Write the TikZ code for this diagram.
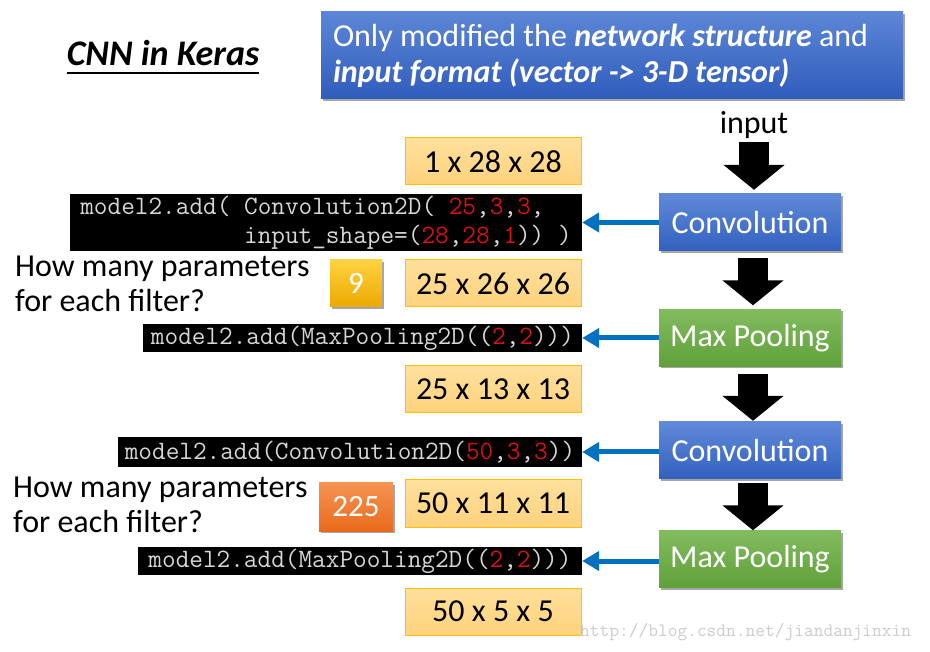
\documentclass[tikz,border=0pt]{standalone}
\usepackage{fontspec}
\setmainfont{Carlito}
\usetikzlibrary{arrows.meta,shadows}
\definecolor{bannerTop}{RGB}{92,134,214}
\definecolor{bannerBot}{RGB}{48,92,188}
\definecolor{convTop}{RGB}{96,138,216}
\definecolor{convBot}{RGB}{50,96,190}
\definecolor{poolTop}{RGB}{130,188,94}
\definecolor{poolBot}{RGB}{96,160,58}
\definecolor{shapeTop}{RGB}{255,224,156}
\definecolor{shapeBot}{RGB}{255,210,124}
\definecolor{shapeLine}{RGB}{255,192,0}
\definecolor{goldTop}{RGB}{255,210,64}
\definecolor{goldBot}{RGB}{236,168,0}
\definecolor{orangeTop}{RGB}{245,148,82}
\definecolor{orangeBot}{RGB}{232,106,28}
\definecolor{codeText}{RGB}{215,215,215}
\definecolor{codeRed}{RGB}{215,16,16}
\definecolor{linkBlue}{RGB}{0,112,192}
\newcommand\rd[1]{\textcolor{codeRed}{#1}}
\tikzset{
  shadowed/.style={drop shadow={shadow xshift=1.5pt, shadow yshift=-2pt, opacity=0.35, fill=black}},
  layer/.style={shadowed, minimum width=182pt, minimum height=57pt, inner sep=0pt, text=white, font=\fontsize{32}{38}\selectfont},
  conv/.style={layer, top color=convTop, bottom color=convBot},
  pool/.style={layer, top color=poolTop, bottom color=poolBot},
  shapebox/.style={minimum width=176pt, minimum height=47pt, inner sep=0pt, draw=shapeLine, line width=1pt, top color=shapeTop, bottom color=shapeBot, font=\fontsize{32}{38}\selectfont},
  parambox/.style={shadowed, inner sep=0pt, text=white, font=\fontsize{31}{36}\selectfont},
  codebox/.style={fill=black, inner sep=0pt, text=codeText, font=\ttfamily\fontsize{26.5}{29}\selectfont},
  question/.style={anchor=west, align=left, inner sep=0pt, font=\fontsize{32}{35}\selectfont},
  blockarrow/.style={black, line width=30pt, -{Triangle[length=25pt,width=60pt]}},
  linkarrow/.style={linkBlue, line width=5pt, -{Triangle[length=17pt,width=19pt]}},
}
\begin{document}
\begin{tikzpicture}[x=1pt,y=-1pt]
\fill[white] (0,0) rectangle (930,652);
\useasboundingbox (0,0) rectangle (930,652);

% title
\node[inner sep=0pt, font=\bfseries\itshape\fontsize{36}{40}\selectfont] (title) at (163,53) {CNN in Keras};
\draw[line width=2pt] ([yshift=-8pt]title.base west) -- ([yshift=-8pt]title.base east);

% banner
\node[shadowed, minimum width=582pt, minimum height=87pt, inner sep=0pt, top color=bannerTop, bottom color=bannerBot] (banner) at (612,55.5) {};
\node[anchor=west, align=left, inner sep=0pt, text=white, font=\fontsize{32}{36}\selectfont] (bannertext) at ([xshift=12pt]banner.west)
  {Only modified the \textbf{\textit{network structure}} and\\\textbf{\textit{input format (vector -> 3-D tensor)}}};

% right column
\node[inner sep=0pt, anchor=base, font=\fontsize{32}{38}\selectfont] (input) at (754,134) {input};
\node[conv] (conv1) at (750,222.5) {Convolution};
\node[pool] (mp1) at (750,338) {Max Pooling};
\node[conv] (conv2) at (750,450.5) {Convolution};
\node[pool] (mp2) at (750,559) {Max Pooling};

\draw[blockarrow] ([yshift=-3pt]input.south) -- ([yshift=4pt]input.south |- conv1.north);
\draw[blockarrow] ([xshift=3pt,yshift=-7pt]conv1.south) -- ([xshift=3pt,yshift=4pt]mp1.north);
\draw[blockarrow] ([xshift=3pt,yshift=-7pt]mp1.south) -- ([xshift=3pt,yshift=1pt]conv2.north);
\draw[blockarrow] ([xshift=3pt,yshift=-4pt]conv2.south) -- ([xshift=3pt,yshift=0pt]mp2.north);

% shapes
\node[shapebox] (s1) at (493,161.5) {1 x 28 x 28};
\node[shapebox] (s2) at (493,283.5) {25 x 26 x 26};
\node[shapebox] (s3) at (493,389.5) {25 x 13 x 13};
\node[shapebox] (s4) at (493,503.5) {50 x 11 x 11};
\node[shapebox] (s5) at (493,611.5) {50 x 5 x 5};

% parameter answers
\node[parambox, minimum width=52pt, minimum height=47pt, top color=goldTop, bottom color=goldBot] (p1) at (356,283.5) {9};
\node[parambox, minimum width=74pt, minimum height=48pt, top color=orangeTop, bottom color=orangeBot] (p2) at (356,507) {225};

% questions
\node[question] (q1) at (15,283.5) {How many parameters\\for each filter?};
\node[question] (q2) at (13,504.5) {How many parameters\\for each filter?};

% code
\node[codebox, minimum width=512pt, minimum height=57pt, align=left] (c1) at (326,222.5)
  {model2.add( Convolution2D( \rd{25},\rd{3},\rd{3},\\\hphantom{model2.add( }input\_shape=(\rd{28},\rd{28},\rd{1})) )};
\node[codebox, minimum width=439pt, minimum height=28pt] (c2) at (362.5,338) {model2.add(MaxPooling2D((\rd{2},\rd{2})))};
\node[codebox, minimum width=464pt, minimum height=30pt] (c3) at (350,452) {model2.add(Convolution2D(\rd{50},\rd{3},\rd{3}))};
\node[codebox, minimum width=444pt, minimum height=28pt] (c4) at (360,561) {model2.add(MaxPooling2D((\rd{2},\rd{2})))};

\draw[linkarrow] (c1.east -| conv1.west) -- (c1.east);
\draw[linkarrow] (c2.east -| mp1.west) -- (c2.east);
\draw[linkarrow] (c3.east -| conv2.west) -- (c3.east);
\draw[linkarrow] (c4.east -| mp2.west) -- (c4.east);

% watermark
\node[anchor=west, inner sep=0pt, text=black!20, font=\ttfamily\fontsize{18.9}{22}\selectfont] (wm) at (580,632) {http://blog.csdn.net/jiandanjinxin};
\end{tikzpicture}
\end{document}
